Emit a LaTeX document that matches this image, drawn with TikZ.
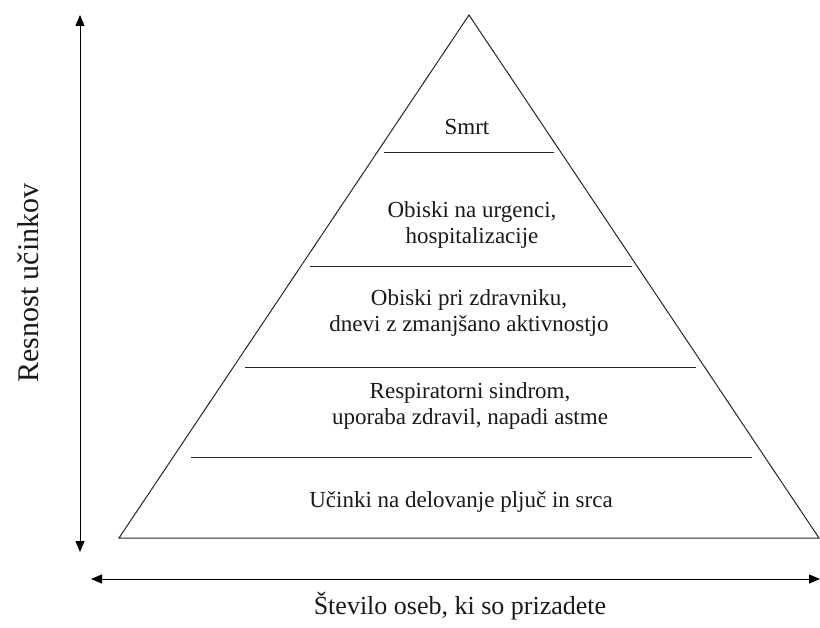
\documentclass[tikz,border=0pt]{standalone}
\usepackage{fontspec}
\setmainfont{Liberation Serif}
\usetikzlibrary{arrows.meta}
\begin{document}
\begin{tikzpicture}[x=1pt,y=-1pt,
  edge/.style={draw=black!85,line width=1pt},
  level/.style={draw=black!85,line width=1pt},
  axis/.style={draw=black,line width=1pt,-{Triangle[length=11pt,width=9pt]}},
  lbl/.style={font=\fontsize{23}{26.5}\selectfont,align=center,inner sep=0pt,text=black!90},
  axlbl/.style={font=\fontsize{26}{30}\selectfont,inner sep=0pt,text=black!90}]
\useasboundingbox (0,0) rectangle (820,628);
% pyramid
\coordinate (apex) at (469,15);
\coordinate (bl) at (119,538);
\coordinate (br) at (819,538);
\draw[edge,line join=miter] (bl) -- (apex) -- (br) -- cycle;
% level lines
\coordinate (l1a) at (384,153); \coordinate (l1b) at (554,153);
\coordinate (l2a) at (310,267); \coordinate (l2b) at (632,267);
\coordinate (l3a) at (245,368); \coordinate (l3b) at (696,368);
\coordinate (l4a) at (191,458); \coordinate (l4b) at (752,458);
\draw[level] (l1a) -- (l1b);
\draw[level] (l2a) -- (l2b);
\draw[level] (l3a) -- (l3b);
\draw[level] (l4a) -- (l4b);
% labels
\node[lbl] (t1) at (467,127) {Smrt};
\node[lbl] (t2) at (472,225) {Obiski na urgenci,\\hospitalizacije};
\node[lbl] (t3) at (469,313) {Obiski pri zdravniku,\\dnevi z zmanjšano aktivnostjo};
\node[lbl] (t4) at (470,406) {Respiratorni sindrom,\\uporaba zdravil, napadi astme};
\node[lbl] (t5) at (461,502) {Učinki na delovanje pljuč in srca};
% axes
\coordinate (vmid) at (80,283);
\coordinate (vtop) at (80,15);
\coordinate (vbot) at (80,552);
\draw[axis] (vmid) -- (vtop);
\draw[axis] (vmid) -- (vbot);
\coordinate (hmid) at (455,579);
\coordinate (hl) at (91,579);
\coordinate (hr) at (820,579);
\draw[axis] (hmid) -- (hl);
\draw[axis] (hmid) -- (hr);
\node[axlbl,font=\fontsize{30}{34}\selectfont,rotate=90] (ylab) at (28,283) {Resnost učinkov};
\node[axlbl] (xlab) at (460,606) {Število oseb, ki so prizadete};
\end{tikzpicture}
\end{document}
